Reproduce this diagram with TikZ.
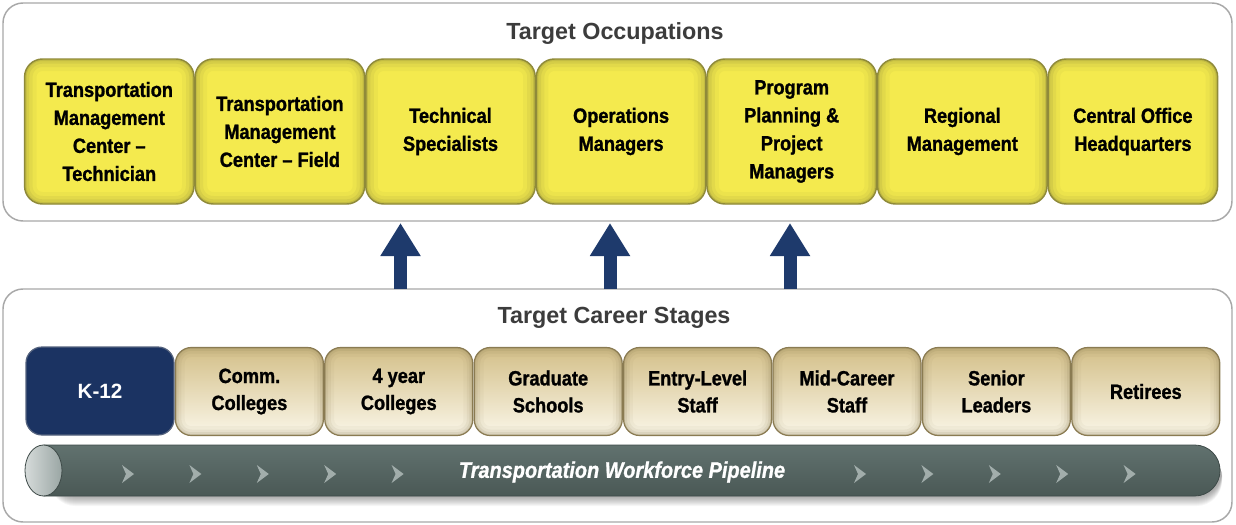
\documentclass[tikz,border=0pt]{standalone}
\usepackage{fontspec}
\setmainfont{Liberation Sans}
\newfontfamily\condfont[FakeStretch=0.88, Ligatures=TeX,
  BoldFeatures={FakeBold=1.2}, BoldItalicFeatures={FakeBold=1.0}]{Liberation Sans}
\usetikzlibrary{arrows.meta}

\definecolor{titlegray}{HTML}{3C3C3C}
\definecolor{panelline}{HTML}{A8A8A8}
\definecolor{occfill}{HTML}{F4EA4E}
\definecolor{occedge}{HTML}{8F8A3A}
\definecolor{stagetop}{HTML}{D3BF88}
\definecolor{stagebot}{HTML}{FAF6E8}
\definecolor{stageedge}{HTML}{8A7B52}
\definecolor{kfill}{HTML}{1B3362}
\definecolor{kedge}{HTML}{55637E}
\definecolor{navy}{HTML}{1E3A6C}
\definecolor{pipetop}{HTML}{61726F}
\definecolor{pipemid}{HTML}{879694}
\definecolor{pipebot}{HTML}{4A5855}
\definecolor{pipeedge}{HTML}{3E4A48}
\definecolor{capl}{HTML}{D6DBDA}
\definecolor{capr}{HTML}{9AA6A4}
\definecolor{chev}{HTML}{B0BBB9}

\begin{document}
\begin{tikzpicture}[x=0.75pt,y=-0.75pt,
  panel/.style={rectangle, draw=panelline, line width=1.1pt, fill=white,
    rounded corners=15pt, minimum width=921.75pt, inner sep=0pt, outer sep=0pt},
  paneltitle/.style={font=\bfseries\fontsize{17.5}{21}\selectfont, text=titlegray},
  occbox/.style={rectangle, rounded corners=13.5pt, minimum width=127.1pt,
    minimum height=108.75pt, inner sep=0pt, outer sep=0pt, fill=occfill,
    draw=occedge, line width=1.1pt, align=center, text=black,
    font=\condfont\bfseries\fontsize{15.5}{21}\selectfont,
    path picture={
      \foreach \w/\o in {18/0.07,12/0.10,7/0.15,3/0.25}
        \draw[occedge, line width=\w pt, opacity=\o, rounded corners=13.5pt]
          (path picture bounding box.south west) rectangle
          (path picture bounding box.north east);
    }},
  stagebox/.style={rectangle, rounded corners=12pt, minimum width=111pt,
    minimum height=66pt, inner sep=0pt, outer sep=0pt,
    top color=stagetop, bottom color=stagebot,
    draw=stageedge, line width=0.9pt, align=center, text=black,
    font=\condfont\bfseries\fontsize{15.5}{20.25}\selectfont,
    path picture={
      \foreach \w/\o in {14/0.06,9/0.09,5/0.13,2/0.2}
        \draw[stageedge, line width=\w pt, opacity=\o, rounded corners=12pt]
          (path picture bounding box.south west) rectangle
          (path picture bounding box.north east);
    }},
  kbox/.style={rectangle, rounded corners=12pt, minimum width=111pt,
    minimum height=66pt, inner sep=0pt, outer sep=0pt, fill=kfill,
    draw=kedge, line width=0.9pt, text=white,
    font=\bfseries\fontsize{15.5}{20}\selectfont},
  bigarrow/.style={draw=navy, line width=9.75pt,
    -{Triangle[width=28.5pt,length=24.75pt]}, shorten >=1.5pt},
  chevron/.style={fill=chev, opacity=0.85},
]
\useasboundingbox (0,0) rectangle (1236,525);
\fill[white] (0,0) rectangle (1236,525);

% the two panels
\node[panel, minimum height=163.5pt] (occpanel) at (617.5,112) {};
\node[panel, minimum height=174.75pt] (stagepanel) at (617.5,405.5) {};
\node[paneltitle] (occtitle) at (615,34) {Target Occupations};
\node[paneltitle] (stagetitle) at (614,318) {Target Career Stages};

% arrows from the career stages up to the occupations
\coordinate (a1) at (400.5,0);
\coordinate (a2) at (610,0);
\coordinate (a3) at (790,0);
\foreach \a in {a1,a2,a3}
  \draw[bigarrow] (stagepanel.north -| \a) -- (occpanel.south -| \a);

% occupation boxes
\node[occbox] (tmct) at (109.3,131.5) {Transportation\\Management\\Center –\\Technician};
\node[occbox] (tmcf) at (279.9,131.5) {Transportation\\Management\\Center – Field};
\node[occbox] (tech) at (450.5,131.5) {Technical\\Specialists};
\node[occbox] (ops)  at (621.1,131.5) {Operations\\Managers};
\node[occbox] (ppm)  at (791.7,131.5) {Program\\Planning \&\\Project\\Managers};
\node[occbox] (reg)  at (962.3,131.5) {Regional\\Management};
\node[occbox] (hq)   at (1132.9,131.5) {Central Office\\Headquarters};

% career stage boxes
\node[kbox] (k12) at (100,391) {K-12};
\node[stagebox] (comm) at (249.4,391.5) {Comm.\\Colleges};
\node[stagebox] (four) at (398.8,391.5) {4 year\\Colleges};
\node[stagebox] (grad) at (548.2,391.5) {Graduate\\Schools};
\node[stagebox] (entry) at (697.6,391.5) {Entry-Level\\Staff};
\node[stagebox] (mid) at (847,391.5) {Mid-Career\\Staff};
\node[stagebox] (senior) at (996.4,391.5) {Senior\\Leaders};
\node[stagebox] (ret) at (1145.8,391.5) {Retirees};

% pipeline: soft shadow, tube, end cap, chevrons
\foreach \d in {1,...,10}
  \fill[black, opacity=0.035, rounded corners=19pt]
    (50,452) -- (1222,452) -- (1222,496+\d) -- (50,496+\d) -- cycle;
\shade[top color=pipetop, middle color=pipemid, bottom color=pipebot, rounded corners=19pt]
  (43.5,445) -- (1220,445) -- (1220,496) -- (43.5,496);
\draw[pipeedge, line width=0.6pt, rounded corners=19pt]
  (43.5,445) -- (1220,445) -- (1220,496) -- (43.5,496);
\shade[left color=capl, right color=capr, draw=pipeedge, line width=0.6pt]
  (43.5,470.5) ellipse [x radius=18.5, y radius=25.5];
\foreach \cx in {128,195.4,262.8,330.2,397.6,860,927.4,994.8,1062.2,1129.6}
  \fill[chevron] (\cx-6,465) -- (\cx+6,474) -- (\cx-6,483) -- (\cx-2,474) -- cycle;
\node[font=\condfont\bfseries\itshape\fontsize{17}{20}\selectfont, text=white]
  (pipetext) at (622,472) {Transportation Workforce Pipeline};
\end{tikzpicture}
\end{document}
